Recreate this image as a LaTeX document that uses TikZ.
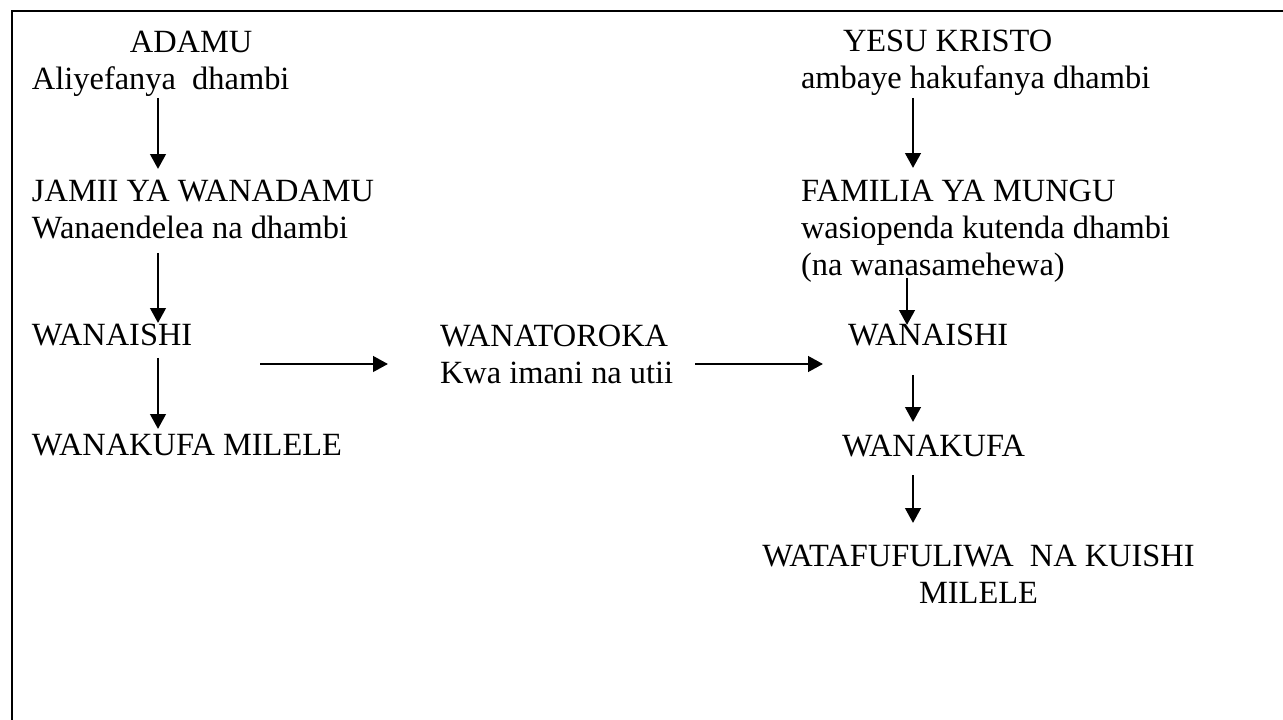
\documentclass[tikz,border=0pt]{standalone}
\usepackage{fontspec}
\setmainfont{Liberation Serif}
\usetikzlibrary{arrows.meta}

\begin{document}
\begin{tikzpicture}[x=0.381pt,y=-0.381pt,
        txt/.style={inner sep=0pt,outer sep=0pt,anchor=north west,align=left,
            font=\fontsize{12.35pt}{14.1pt}\selectfont},
        flow/.style={line width=1.05pt,-{Triangle[length=5.7pt,width=5.9pt]}}]
    \useasboundingbox (0,0) rectangle (1283,720);
    \draw[line width=0.8pt] (1283,11) -- (12,11) -- (12,720);
    % upande wa Adamu
    \node[txt] (adamu) at (32,31.5) {\hspace*{37.3pt}ADAMU\\Aliyefanya\ \ dhambi};
    \node[txt] (jamii) at (32,180.5) {JAMII YA WANADAMU\\Wanaendelea na dhambi};
    \node[txt] (wanaishiL) at (32,324.5) {WANAISHI};
    \node[txt] (wanakufaL) at (32,434.5) {WANAKUFA MILELE};
    % katikati
    \node[txt] (wanatoroka) at (440,325.5) {WANATOROKA\\Kwa imani na utii};
    % upande wa Yesu
    \node[txt] (yesu) at (801,30.5) {\hspace*{16pt}YESU KRISTO\\ambaye hakufanya dhambi};
    \node[txt] (familia) at (801,180.5) {FAMILIA YA MUNGU\\wasiopenda kutenda dhambi\\(na wanasamehewa)};
    \node[txt] (wanaishiR) at (848,324.5) {WANAISHI};
    \node[txt] (wanakufaR) at (842,435.5) {WANAKUFA};
    \node[txt,anchor=north,align=center] (ufufuo) at (978.5,545.5)
        {WATAFUFULIWA\ \ NA KUISHI\\MILELE};

    \draw[flow] ([shift={(126,66.5)}]adamu.north west) -- ([shift={(126,-11.5)}]jamii.north west);
    \draw[flow] ([shift={(126,72.5)}]jamii.north west) -- ([shift={(126,-1.5)}]wanaishiL.north west);
    \draw[flow] ([shift={(126,33.5)}]wanaishiL.north west) -- ([shift={(126,-5.5)}]wanakufaL.north west);
    \draw[flow] ([shift={(228,39.5)}]wanaishiL.north west) -- ([shift={(-52,38.5)}]wanatoroka.north west);
    \draw[flow] ([shift={(255,38.5)}]wanatoroka.north west) -- ([shift={(-25,39.5)}]wanaishiR.north west);
    \draw[flow] ([shift={(112,67.5)}]yesu.north west) -- ([shift={(112,-12.5)}]familia.north west);
    \draw[flow] ([shift={(106,97.5)}]familia.north west) -- ([shift={(59,0.5)}]wanaishiR.north west);
    \draw[flow] ([shift={(65,50.5)}]wanaishiR.north west) -- ([shift={(71,-13.5)}]wanakufaR.north west);
    \draw[flow] ([shift={(71,39.5)}]wanakufaR.north west) -- ([shift={(-65.5,-22.5)}]ufufuo.north);
\end{tikzpicture}
\end{document}
